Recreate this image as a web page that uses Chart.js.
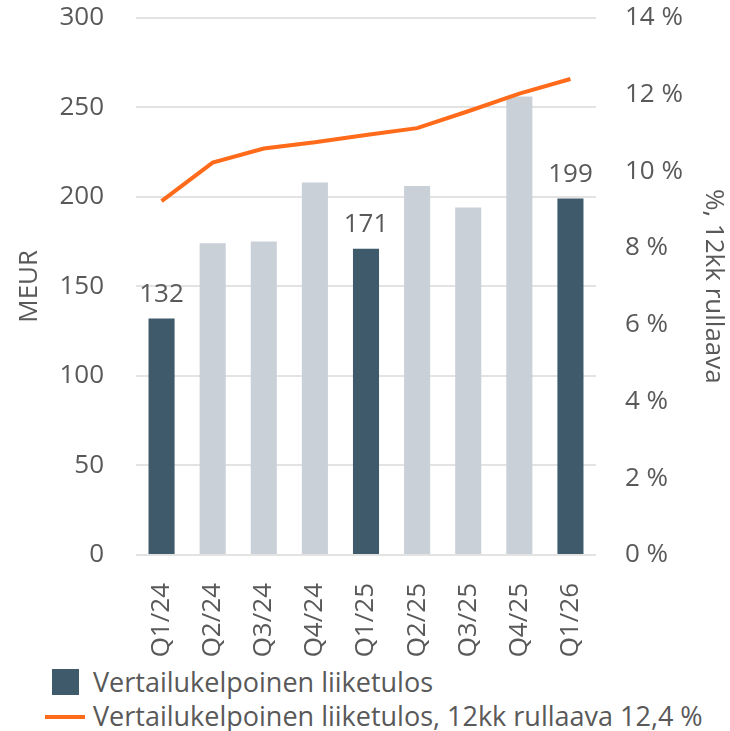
<!DOCTYPE html>
<html>
<head>
<meta charset="utf-8">
<script src="https://cdn.jsdelivr.net/npm/chart.js@4/dist/chart.umd.min.js"></script>
<style>
  body { margin: 0; background: #fff; font-family: "Open Sans", sans-serif; }
  #wrap { position: relative; width: 730px; height: 731px; }
  .legend { position: absolute; left: 0; color: #595959; font-size: 27px; line-height: 32px; white-space: nowrap; }
  .legend span { position: absolute; left: 93px; top: 0; }
  .sw { position: absolute; }
</style>
</head>
<body>
<div id="wrap">
  <canvas id="chart" width="730" height="660"></canvas>
  <div class="legend" style="top:666px">
    <div class="sw" style="left:52px;top:3px;width:27px;height:26px;background:#3e5a6b"></div>
    <span>Vertailukelpoinen liiketulos</span>
  </div>
  <div class="legend" style="top:700px">
    <div class="sw" style="left:45px;top:15px;width:40px;height:4px;background:#ff6b1a"></div>
    <span>Vertailukelpoinen liiketulos, 12kk rullaava 12,4 %</span>
  </div>
</div>
<script>
const categories = ["Q1/24", "Q2/24", "Q3/24", "Q4/24", "Q1/25", "Q2/25", "Q3/25", "Q4/25", "Q1/26"];
const liiketulos = [132, 174, 175, 208, 171, 206, 194, 256, 199];
const rullaava = [9.22, 10.22, 10.59, 10.75, 10.94, 11.12, 11.56, 12.02, 12.4];
const highlighted = [true, false, false, false, true, false, false, false, true];

const dark = "#3e5a6b";
const light = "#c9d0d7";
const textColor = "#595959";
const tickFont = { family: "Open Sans", size: 26 };

// arvot tummien pylväiden päälle
const barLabels = {
  id: "barLabels",
  afterDatasetsDraw(chart) {
    const ctx = chart.ctx;
    const meta = chart.getDatasetMeta(1);
    ctx.save();
    ctx.font = "26px 'Open Sans'";
    ctx.fillStyle = textColor;
    ctx.textAlign = "center";
    ctx.textBaseline = "alphabetic";
    meta.data.forEach((bar, i) => {
      if (!highlighted[i]) return;
      ctx.fillText(String(liiketulos[i]), bar.x, bar.y - 17);
    });
    ctx.restore();
  },
};

new Chart(document.getElementById("chart").getContext("2d"), {
  data: {
    labels: categories,
    datasets: [
      {
        type: "line",
        label: "Vertailukelpoinen liiketulos, 12kk rullaava 12,4 %",
        data: rullaava,
        yAxisID: "y1",
        borderColor: "#ff6b1a",
        borderWidth: 4,
        pointRadius: 0,
        tension: 0,
        order: 0,
      },
      {
        type: "bar",
        label: "Vertailukelpoinen liiketulos",
        data: liiketulos,
        yAxisID: "y",
        backgroundColor: highlighted.map((h) => (h ? dark : light)),
        barPercentage: 0.51,
        categoryPercentage: 1,
        order: 1,
      },
    ],
  },
  options: {
    responsive: false,
    animation: false,
    layout: { padding: 0 },
    plugins: { legend: { display: false }, tooltip: { enabled: false } },
    scales: {
      x: {
        grid: { display: false },
        border: { display: false },
        ticks: {
          color: textColor,
          font: tickFont,
          minRotation: 90,
          maxRotation: 90,
          padding: 20,
        },
        afterFit: (s) => { s.height = 105; },
      },
      y: {
        position: "left",
        min: 0,
        max: 300,
        grid: { color: "#e3e3e3", lineWidth: 2, drawTicks: true, tickLength: 30, tickColor: "rgba(0,0,0,0)" },
        border: { display: false },
        ticks: {
          stepSize: 50,
          color: textColor,
          font: tickFont,
          padding: 2,
        },
        title: {
          display: true,
          text: "MEUR",
          color: textColor,
          font: tickFont,
          padding: { top: 14, bottom: 0 },
        },
        afterFit: (s) => { s.width = 136; },
      },
      y1: {
        position: "right",
        min: 0,
        max: 14,
        grid: { drawOnChartArea: false, drawTicks: true, tickLength: 27, tickColor: "rgba(0,0,0,0)" },
        border: { display: false },
        ticks: {
          stepSize: 2,
          color: textColor,
          font: tickFont,
          padding: 2,
          callback: (v) => v + " %",
        },
        title: {
          display: true,
          text: "%, 12kk rullaava",
          color: textColor,
          font: tickFont,
          padding: { top: 1, bottom: 0 },
        },
        afterFit: (s) => { s.width = 134; },
      },
    },
  },
  plugins: [barLabels],
});
</script>
</body>
</html>
